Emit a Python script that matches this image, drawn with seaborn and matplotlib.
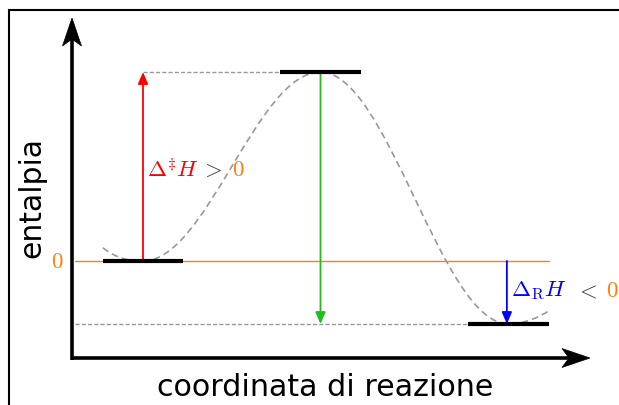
import matplotlib.pyplot as plt
import seaborn as sns
from matplotlib.patches import FancyArrowPatch, PathPatch, Rectangle
from matplotlib.path import Path
from matplotlib.transforms import ScaledTranslation, Affine2D

sns.set_style('white')
plt.rcParams['font.family'] = ['DejaVu Sans']
plt.rcParams['mathtext.fontset'] = 'cm'

# energy levels (reactant, transition state, product) and their positions
stages = ['reagenti', 'stato di transizione', 'prodotti']
positions = [2.0, 7.0, 12.3]
energies = [0.0, 3.0, -1.0]
half_width = 1.14

# dashed reaction path (bezier end points)
curve_start = (0.87, 0.21)
curve_end = (13.46, -0.78)

fig = plt.figure(figsize=(6.19, 4.05), dpi=100)
# frame around the picture (cropped on the right and bottom)
fig.patches.append(Rectangle((9 / 619, -0.1), 1.2, 1 - 10 / 405 + 0.1,
                             transform=fig.transFigure, fill=False,
                             edgecolor='black', linewidth=1.5))

ax = fig.add_axes([72 / 619, 47 / 405, 518 / 619, 340 / 405])
ax.set_xlim(0, 518 / 35.5)
ax.set_ylim(-97 / 63, 243 / 63)
ax.axis('off')
x0, x1 = ax.get_xlim()
y0, y1 = ax.get_ylim()

# stealth-like arrow head, in inches, pointing to +x
head_len, head_hw, notch = 0.28, 0.095, 0.07
head = Path([(0, 0), (-head_len, head_hw), (-head_len + notch, 0),
             (-head_len, -head_hw), (0, 0)],
            [Path.MOVETO, Path.LINETO, Path.LINETO, Path.LINETO, Path.CLOSEPOLY])


def axis_arrow(tip, angle):
    tr = Affine2D().rotate_deg(angle) + fig.dpi_scale_trans + \
        ScaledTranslation(tip[0], tip[1], ax.transData)
    ax.add_patch(PathPatch(head, transform=tr, facecolor='black', edgecolor='black',
                           lw=0.5, clip_on=False, zorder=6))


# axes as arrows
ax.plot([0, 0], [y0 - 0.03, y1 - 0.3], color='black', lw=2.6, clip_on=False,
        solid_capstyle='butt', zorder=5)
ax.plot([-0.04, x1 - 0.6], [y0, y0], color='black', lw=2.6, clip_on=False,
        solid_capstyle='butt', zorder=5)
axis_arrow((0, y1), 90)
axis_arrow((x1, y0), 0)

r, t, p = energies
xr, xt, xp = positions

# zero line and helper dashed lines
ax.plot([0.08, xp + half_width], [0, 0], color='#ff7f0e', lw=1.0, zorder=1)
ax.plot([xr, xt - half_width], [t, t], color='#999999', lw=1.0, ls=(0, (3, 1.5)), zorder=1)
ax.plot([0.08, xp - half_width], [p, p], color='#999999', lw=1.0, ls=(0, (3, 1.5)), zorder=1)

# reaction path
verts = [curve_start, (1.25, 0.04), (1.6, r), (xr, r),
         (xr + 1.8, r), (xt - 1.8, t), (xt, t),
         (xt + 1.9, t), (xp - 1.9, p), (xp, p),
         (xp + 0.4, p), (xp + 0.85, -0.9), curve_end]
codes = [Path.MOVETO] + [Path.CURVE4] * 12
ax.add_patch(PathPatch(Path(verts, codes), fill=False, edgecolor='#999999',
                       lw=1.2, ls=(0, (4, 2.5)), zorder=2))

# levels
for xpos, e in zip(positions, energies):
    ax.plot([xpos - half_width, xpos + half_width], [e, e], color='black', lw=3, zorder=4,
            solid_capstyle='butt')

# energy arrows
for (xa, ea, eb, col) in [(xr, r, t, 'red'), (xt, t, p, '#22bb22'), (xp - 0.05, r, p, 'blue')]:
    ax.add_patch(FancyArrowPatch((xa, ea), (xa, eb), arrowstyle='-|>,head_length=7,head_width=3',
                                 color=col, lw=1.3, shrinkA=0, shrinkB=0, zorder=3))

fs = 16.5
ax.text(xr + 0.12, 1.45, r'$\Delta^{\ddagger}H$', color='red', fontsize=fs, va='center')
ax.text(xr + 1.6, 1.45, r'$>$', color='#444444', fontsize=fs, va='center')
ax.text(xr + 2.5, 1.45, r'$0$', color='#ff7f0e', fontsize=fs, va='center')
ax.text(xp + 0.07, -0.47, r'$\Delta_{\mathrm{R}}H$', color='blue', fontsize=fs, va='center')
ax.text(xp + 1.86, -0.47, r'$<$', color='#444444', fontsize=fs, va='center')
ax.text(xp + 2.75, -0.47, r'$0$', color='#ff7f0e', fontsize=fs, va='center')
ax.text(-0.25, 0, r'$0$', color='#ff7f0e', fontsize=fs, va='center', ha='right')

fig.text(325 / 619, 1 - 388 / 405, 'coordinata di reazione', fontsize=21.7,
         color='black', ha='center', va='center')
fig.text(32 / 619, 1 - 197 / 405, 'entalpia', fontsize=21.5, rotation=90,
         color='black', ha='center', va='center')

fig.savefig('out.png', dpi=100)
